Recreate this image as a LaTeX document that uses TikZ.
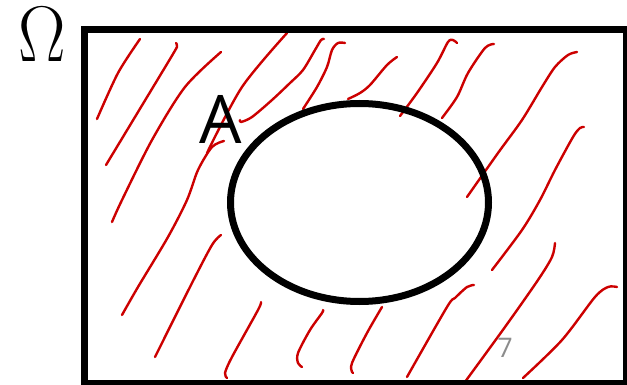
\RequirePackage{fix-cm}
\documentclass[tikz,border=0pt]{standalone}
\usepackage{fontspec}
\newfontfamily\labelfont{Open Sans}
\definecolor{penred}{RGB}{204,0,0}
\definecolor{pagegray}{RGB}{140,140,140}
\tikzset{
  hatch/.style={penred, line width=2.4, line cap=round, line join=round},
  setline/.style={black, line width=7},
}
\begin{document}
\begin{tikzpicture}[x=1pt,y=-1pt]
\useasboundingbox (0,0) rectangle (627,385);
% hatching of the complement
\draw[hatch] plot[smooth, tension=0.5] coordinates {(140,39) (118,73) (97,119)};
\draw[hatch] plot[smooth, tension=0.5] coordinates {(176,43) (177,46) (173,54) (135,117) (106,165)};
\draw[hatch] plot[smooth, tension=0.5] coordinates {(221,52) (185,87) (152,140) (122,200) (112,222)};
\draw[hatch] plot[smooth, tension=0.5] coordinates {(287,33) (242,87) (207,153)};
\draw[hatch] plot[smooth, tension=0.5] coordinates {(324,39) (321,40) (315,50) (303,70) (290,83) (272,100) (252,117) (241,122) (240,120)};
\draw[hatch] plot[smooth, tension=0.5] coordinates {(224,141) (212,147) (198,170) (187,200) (168,237) (138,287) (122,315)};
\draw[hatch] plot[smooth, tension=0.5] coordinates {(345,43) (338,43) (332,50) (327,67) (317,87) (303,109)};
\draw[hatch] plot[smooth, tension=0.5] coordinates {(397,57) (387,65) (370,85) (360,93) (348,99)};
\draw[hatch] plot[smooth, tension=0.5] coordinates {(457,43) (453,40) (448,42) (437,63) (417,93) (400,116)};
\draw[hatch] plot[smooth, tension=0.5] coordinates {(494,44) (485,48) (468,73) (457,97) (442,118)};
\draw[hatch] plot[smooth, tension=0.5] coordinates {(577,52) (568,55) (555,67) (542,87) (522,120) (498,153) (467,197)};
\draw[hatch] plot[smooth, tension=0.5] coordinates {(584,127) (580,128) (573,137) (555,170) (540,200) (522,230) (492,270)};
\draw[hatch] plot[smooth, tension=0.5] coordinates {(221,235) (212,245) (192,283) (155,357)};
\draw[hatch] plot[smooth, tension=0.5] coordinates {(261,302) (258,310) (232,357) (225,373) (227,378)};
\draw[hatch] plot[smooth, tension=0.5] coordinates {(323,310) (322,313) (310,330) (298,353) (298,363) (302,367)};
\draw[hatch] plot[smooth, tension=0.5] coordinates {(382,307) (367,333) (352,363) (352,372) (353,373)};
\draw[hatch] plot[smooth, tension=0.5] coordinates {(474,285) (467,287) (455,298) (447,307) (407,377)};
\draw[hatch] plot[smooth, tension=0.5] coordinates {(555,243) (552,257) (538,280) (505,327) (462,386)};
\draw[hatch] plot[smooth, tension=0.5] coordinates {(617,287) (608,287) (595,297) (562,340) (523,378)};
% sample space and event
\draw[setline] (84.5,29.8) rectangle (626.5,383.5);
\draw[setline] (359.5,202.5) ellipse (129 and 99);
\node[inner sep=0pt, xscale=0.9] (omega) at (42.5,35) {\fontsize{79}{79}\selectfont$\Omega$};
\node (setA) at (220.5,119) {\labelfont\fontsize{67}{67}\selectfont A};
\node[pagegray] (pagenum) at (505,347.5) {\labelfont\fontsize{27}{27}\selectfont 7};
\end{tikzpicture}
\end{document}
